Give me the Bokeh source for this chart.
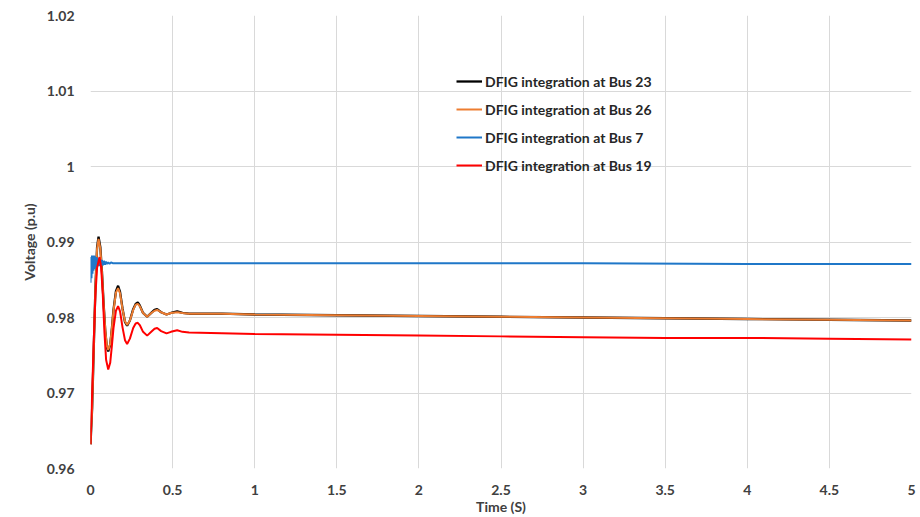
from bokeh.plotting import figure
from bokeh.models import Legend, LegendItem, FixedTicker
from bokeh.embed import file_html
from bokeh.resources import INLINE

# ---- data ----
t_23 = [0, 0.01, 0.02, 0.03, 0.04, 0.049, 0.06, 0.07, 0.08, 0.09, 0.10, 0.108, 0.12, 0.13, 0.14, 0.155,
        0.168, 0.18, 0.195, 0.21, 0.223, 0.24, 0.26, 0.275, 0.288, 0.30, 0.32, 0.345, 0.37, 0.39, 0.406,
        0.43, 0.463, 0.49, 0.528, 0.56, 0.6, 0.8, 1.0, 1.5, 2.0, 2.5, 3.0, 3.5, 4.0, 4.5, 5.0]
v_23 = [0.9632, 0.9680, 0.9760, 0.9840, 0.9893, 0.9907, 0.9893, 0.9860, 0.9818, 0.9782, 0.9760, 0.9755,
        0.9764, 0.9785, 0.9810, 0.9835, 0.9842, 0.9834, 0.9812, 0.9794, 0.9789, 0.9796, 0.9811, 0.9818,
        0.9820, 0.9816, 0.9806, 0.9801, 0.9806, 0.9810, 0.9811, 0.9807, 0.9804, 0.9806, 0.9808, 0.9806,
        0.9805, 0.9805, 0.9804, 0.9803, 0.9802, 0.9801, 0.9800, 0.9799, 0.9798, 0.9797, 0.9796]

t_26 = t_23
v_26 = [0.9632, 0.9680, 0.9760, 0.9840, 0.9891, 0.9904, 0.9891, 0.9859, 0.9818, 0.9783, 0.9762, 0.9757,
        0.9765, 0.9785, 0.9809, 0.9833, 0.9839, 0.9832, 0.9811, 0.9795, 0.9790, 0.9796, 0.9810, 0.9817,
        0.9818, 0.9815, 0.9806, 0.9801, 0.9806, 0.9809, 0.9810, 0.9807, 0.9804, 0.9806, 0.9807, 0.9806,
        0.9805, 0.9805, 0.9804, 0.9803, 0.9802, 0.9801, 0.9800, 0.9799, 0.9798, 0.9797, 0.9796]

t_7 = [0, 0.003, 0.006, 0.009, 0.012, 0.015, 0.018, 0.021, 0.024, 0.027, 0.030, 0.034, 0.038, 0.042,
       0.046, 0.050, 0.055, 0.060, 0.065, 0.070, 0.076, 0.082, 0.088, 0.094, 0.100, 0.108, 0.116, 0.125,
       0.135, 0.15, 0.3, 1.0, 2.0, 3.0, 4.0, 5.0]
v_7 = [0.9846, 0.9880, 0.9852, 0.9882, 0.9858, 0.9881, 0.9862, 0.9882, 0.9864, 0.9881, 0.9866, 0.9880,
       0.9867, 0.9879, 0.9868, 0.9878, 0.9868, 0.9877, 0.9869, 0.9876, 0.9869, 0.9875, 0.9870, 0.9874,
       0.9871, 0.9873, 0.9871, 0.9873, 0.9872, 0.9872, 0.9872, 0.9872, 0.9872, 0.9872, 0.9871, 0.9871]

t_19 = [0, 0.01, 0.02, 0.03, 0.04, 0.055, 0.065, 0.075, 0.085, 0.095, 0.108, 0.12, 0.13, 0.14, 0.155,
        0.168, 0.18, 0.195, 0.21, 0.223, 0.24, 0.26, 0.275, 0.288, 0.30, 0.32, 0.345, 0.37, 0.39, 0.406,
        0.43, 0.463, 0.49, 0.528, 0.56, 0.6, 0.8, 1.0, 1.5, 2.0, 2.5, 3.0, 3.5, 4.0, 4.5, 5.0]
v_19 = [0.9632, 0.9700, 0.9770, 0.9830, 0.9866, 0.9880, 0.9866, 0.9830, 0.9780, 0.9744, 0.9731, 0.9740,
        0.9762, 0.9786, 0.9809, 0.9815, 0.9808, 0.9787, 0.9770, 0.9765, 0.9772, 0.9786, 0.9792, 0.9793,
        0.9790, 0.9781, 0.9776, 0.9781, 0.9785, 0.9786, 0.9782, 0.9779, 0.9781, 0.9783, 0.9781, 0.9780,
        0.9779, 0.9778, 0.9777, 0.9776, 0.9775, 0.9774, 0.9773, 0.9773, 0.9772, 0.9771]

x_ticks = [0, 0.5, 1, 1.5, 2, 2.5, 3, 3.5, 4, 4.5, 5]
x_tick_labels = ["0", "0.5", "1", "1.5", "2", "2.5", "3", "3.5", "4", "4.5", "5"]
y_ticks = [0.96, 0.97, 0.98, 0.99, 1.00, 1.01, 1.02]
y_tick_labels = ["0.96", "0.97", "0.98", "0.99", "1", "1.01", "1.02"]

series = [
    ("DFIG integration at Bus 23", t_23, v_23, "#000000", 2.3),
    ("DFIG integration at Bus 26", t_26, v_26, "#ED7D31", 2.0),
    ("DFIG integration at Bus 7", t_7, v_7, "#1F77C8", 2.0),
    ("DFIG integration at Bus 19", t_19, v_19, "#FF0000", 2.0),
]

FONT = "Lato"
TXT = "#404040"

p = figure(width=920, height=517, output_backend="svg", toolbar_location=None,
           x_range=(0, 5), y_range=(0.96, 1.02),
           min_border_left=90, min_border_right=9, min_border_top=15, min_border_bottom=48)
p.outline_line_color = None
p.background_fill_color = "white"
p.border_fill_color = "white"

items = []
for name, tx, vy, col, lw in series:
    r = p.line(tx, vy, line_color=col, line_width=lw)
    items.append(LegendItem(label=name, renderers=[r]))

legend = Legend(items=items, location=(366, 293), orientation="vertical")
legend.background_fill_alpha = 0
legend.border_line_color = None
legend.padding = 0
legend.margin = 0
legend.spacing = 8
legend.glyph_width = 26
legend.glyph_height = 20
legend.label_height = 20
legend.label_standoff = 3
legend.label_text_font = FONT
legend.label_text_font_style = "bold"
legend.label_text_font_size = "14px"
legend.label_text_color = "#262626"
p.add_layout(legend, "center")

p.xaxis.ticker = FixedTicker(ticks=x_ticks)
p.xaxis.major_label_overrides = {t: l for t, l in zip(x_ticks, x_tick_labels)}
p.yaxis.ticker = FixedTicker(ticks=y_ticks)
p.yaxis.major_label_overrides = {t: l for t, l in zip(y_ticks, y_tick_labels)}

for ax in (p.xaxis, p.yaxis):
    ax.axis_line_color = None
    ax.major_tick_line_color = None
    ax.minor_tick_line_color = None
    ax.major_label_text_font = FONT
    ax.major_label_text_font_style = "bold"
    ax.major_label_text_font_size = "14px"
    ax.major_label_text_color = TXT
    ax.axis_label_text_font = FONT
    ax.axis_label_text_font_style = "bold"
    ax.axis_label_text_font_size = "14px"
    ax.axis_label_text_color = TXT

p.xaxis.axis_label = "Time (S)"
p.yaxis.axis_label = "Voltage (p.u)"
p.xaxis.major_label_standoff = 10
p.xaxis.axis_label_standoff = 0
p.yaxis.major_label_standoff = 10
p.yaxis.axis_label_standoff = 6

p.xgrid.grid_line_color = "#D9D9D9"
p.ygrid.grid_line_color = "#D9D9D9"
p.xgrid.grid_line_width = 1
p.ygrid.grid_line_width = 1

open("out.html", "w").write(file_html(p, INLINE))
